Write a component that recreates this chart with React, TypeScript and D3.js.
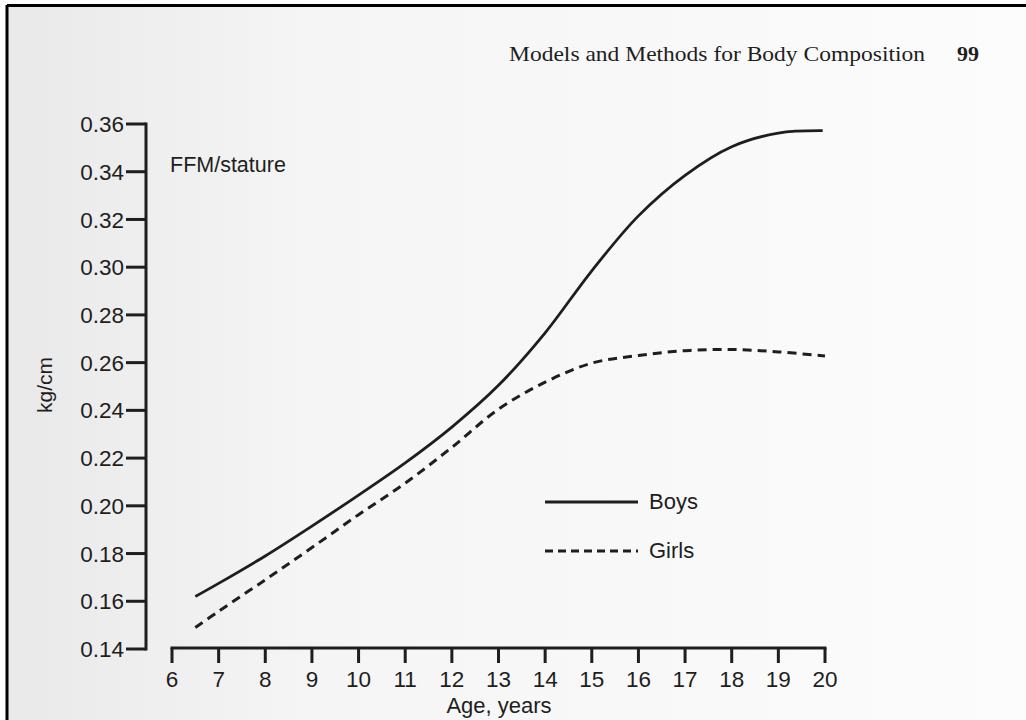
import React from 'react';
import * as d3 from 'd3';

const ages = [6, 7, 8, 9, 10, 11, 12, 13, 14, 15, 16, 17, 18, 19, 20];
const yTicks = [0.14, 0.16, 0.18, 0.2, 0.22, 0.24, 0.26, 0.28, 0.3, 0.32, 0.34, 0.36];

const boysAge = [6.5, 7, 8, 9, 10, 11, 12, 13, 14, 15, 16, 17, 18, 19, 19.95];
const boysVal = [0.162, 0.1675, 0.179, 0.1915, 0.2045, 0.218, 0.233, 0.2505, 0.2725, 0.2985, 0.3215, 0.3385, 0.3505, 0.3562, 0.3572];

const girlsAge = [6.5, 7, 8, 9, 10, 11, 12, 13, 14, 15, 16, 17, 18, 19, 20];
const girlsVal = [0.149, 0.1558, 0.169, 0.1825, 0.1963, 0.2095, 0.2245, 0.2405, 0.2518, 0.2598, 0.263, 0.265, 0.2655, 0.2645, 0.2628];

const legendItems = ['Boys', 'Girls'];

const W = 1026;
const H = 720;
const ink = '#1e1e1e';
const sans = '"Liberation Sans", Arial, Helvetica, sans-serif';

export default function App() {
  const x = d3.scaleLinear().domain([6, 20]).range([172, 825]);
  const y = d3.scaleLinear().domain([0.14, 0.36]).range([649, 124]);
  const axisX = 146;
  const axisY = 648;

  const line = d3.line<[number, number]>()
    .x(d => x(d[0]))
    .y(d => y(d[1]))
    .curve(d3.curveCatmullRom.alpha(0.5));

  const boys = line(boysAge.map((a, i) => [a, boysVal[i]] as [number, number])) || '';
  const girls = line(girlsAge.map((a, i) => [a, girlsVal[i]] as [number, number])) || '';

  return (
    <svg width={W} height={H} style={{ position: 'absolute', left: 0, top: 0, display: 'block' }}>
      <defs>
        <linearGradient id="paper" x1="0" x2="1" y1="0" y2="0">
          <stop offset="0" stopColor="#e9e9e9" />
          <stop offset="0.3" stopColor="#f5f5f5" />
          <stop offset="1" stopColor="#fcfcfc" />
        </linearGradient>
      </defs>
      <rect x={0} y={0} width={W} height={H} fill="#fff" />
      <rect x={7} y={7} width={W - 7} height={H - 7} fill="url(#paper)" />
      {/* scan border */}
      <line x1={7} y1={5.5} x2={W} y2={5.5} stroke="#000" strokeWidth={3} />
      <line x1={7} y1={5} x2={7} y2={H} stroke="#000" strokeWidth={3} />

      {/* running head */}
      <text x={509} y={61} fontFamily='"Liberation Serif", "Times New Roman", serif' fontSize={22}
        textLength={416} lengthAdjust="spacingAndGlyphs" fill={ink}>
        Models and Methods for Body Composition
      </text>
      <text x={957} y={61} fontFamily='"Liberation Serif", "Times New Roman", serif' fontSize={22}
        fontWeight="bold" fill={ink}>99</text>

      {/* y axis */}
      <line x1={axisX} y1={y(0.36) - 1.5} x2={axisX} y2={y(0.14) + 1.5} stroke={ink} strokeWidth={3} />
      {yTicks.map(t => (
        <g key={t}>
          <line x1={axisX - 20} x2={axisX} y1={y(t)} y2={y(t)} stroke={ink} strokeWidth={3} />
          <text x={axisX - 22} y={y(t)} dy="0.36em" textAnchor="end" fontFamily={sans} fontSize={22.5} fill={ink}>
            {t.toFixed(2)}
          </text>
        </g>
      ))}
      <text transform={`translate(52,385) rotate(-90)`} textAnchor="middle" fontFamily={sans} fontSize={21} fill={ink}>
        kg/cm
      </text>

      {/* x axis */}
      <line x1={x(6) - 1.5} x2={x(20) + 1.5} y1={axisY} y2={axisY} stroke={ink} strokeWidth={3} />
      {ages.map(a => (
        <g key={a}>
          <line x1={x(a)} x2={x(a)} y1={axisY} y2={axisY + 15} stroke={ink} strokeWidth={3} />
          <text x={x(a)} y={687} textAnchor="middle" fontFamily={sans} fontSize={22.5} fill={ink}>{a}</text>
        </g>
      ))}
      <text x={499} y={713} textAnchor="middle" fontFamily={sans} fontSize={22} fill={ink}>Age, years</text>

      <text x={170} y={172} fontFamily={sans} fontSize={21.5} fill={ink}>FFM/stature</text>

      {/* curves */}
      <path d={boys} fill="none" stroke={ink} strokeWidth={2.8} />
      <path d={girls} fill="none" stroke={ink} strokeWidth={3} strokeDasharray="9,6" />

      {/* legend */}
      {legendItems.map((name, i) => (
        <g key={name}>
          <line x1={545} x2={638} y1={502 + i * 49} y2={502 + i * 49} stroke={ink} strokeWidth={3}
            strokeDasharray={i === 1 ? '8,5' : undefined} />
          <text x={649} y={509 + i * 49} fontFamily={sans} fontSize={22} fill={ink}>{name}</text>
        </g>
      ))}
    </svg>
  );
}
